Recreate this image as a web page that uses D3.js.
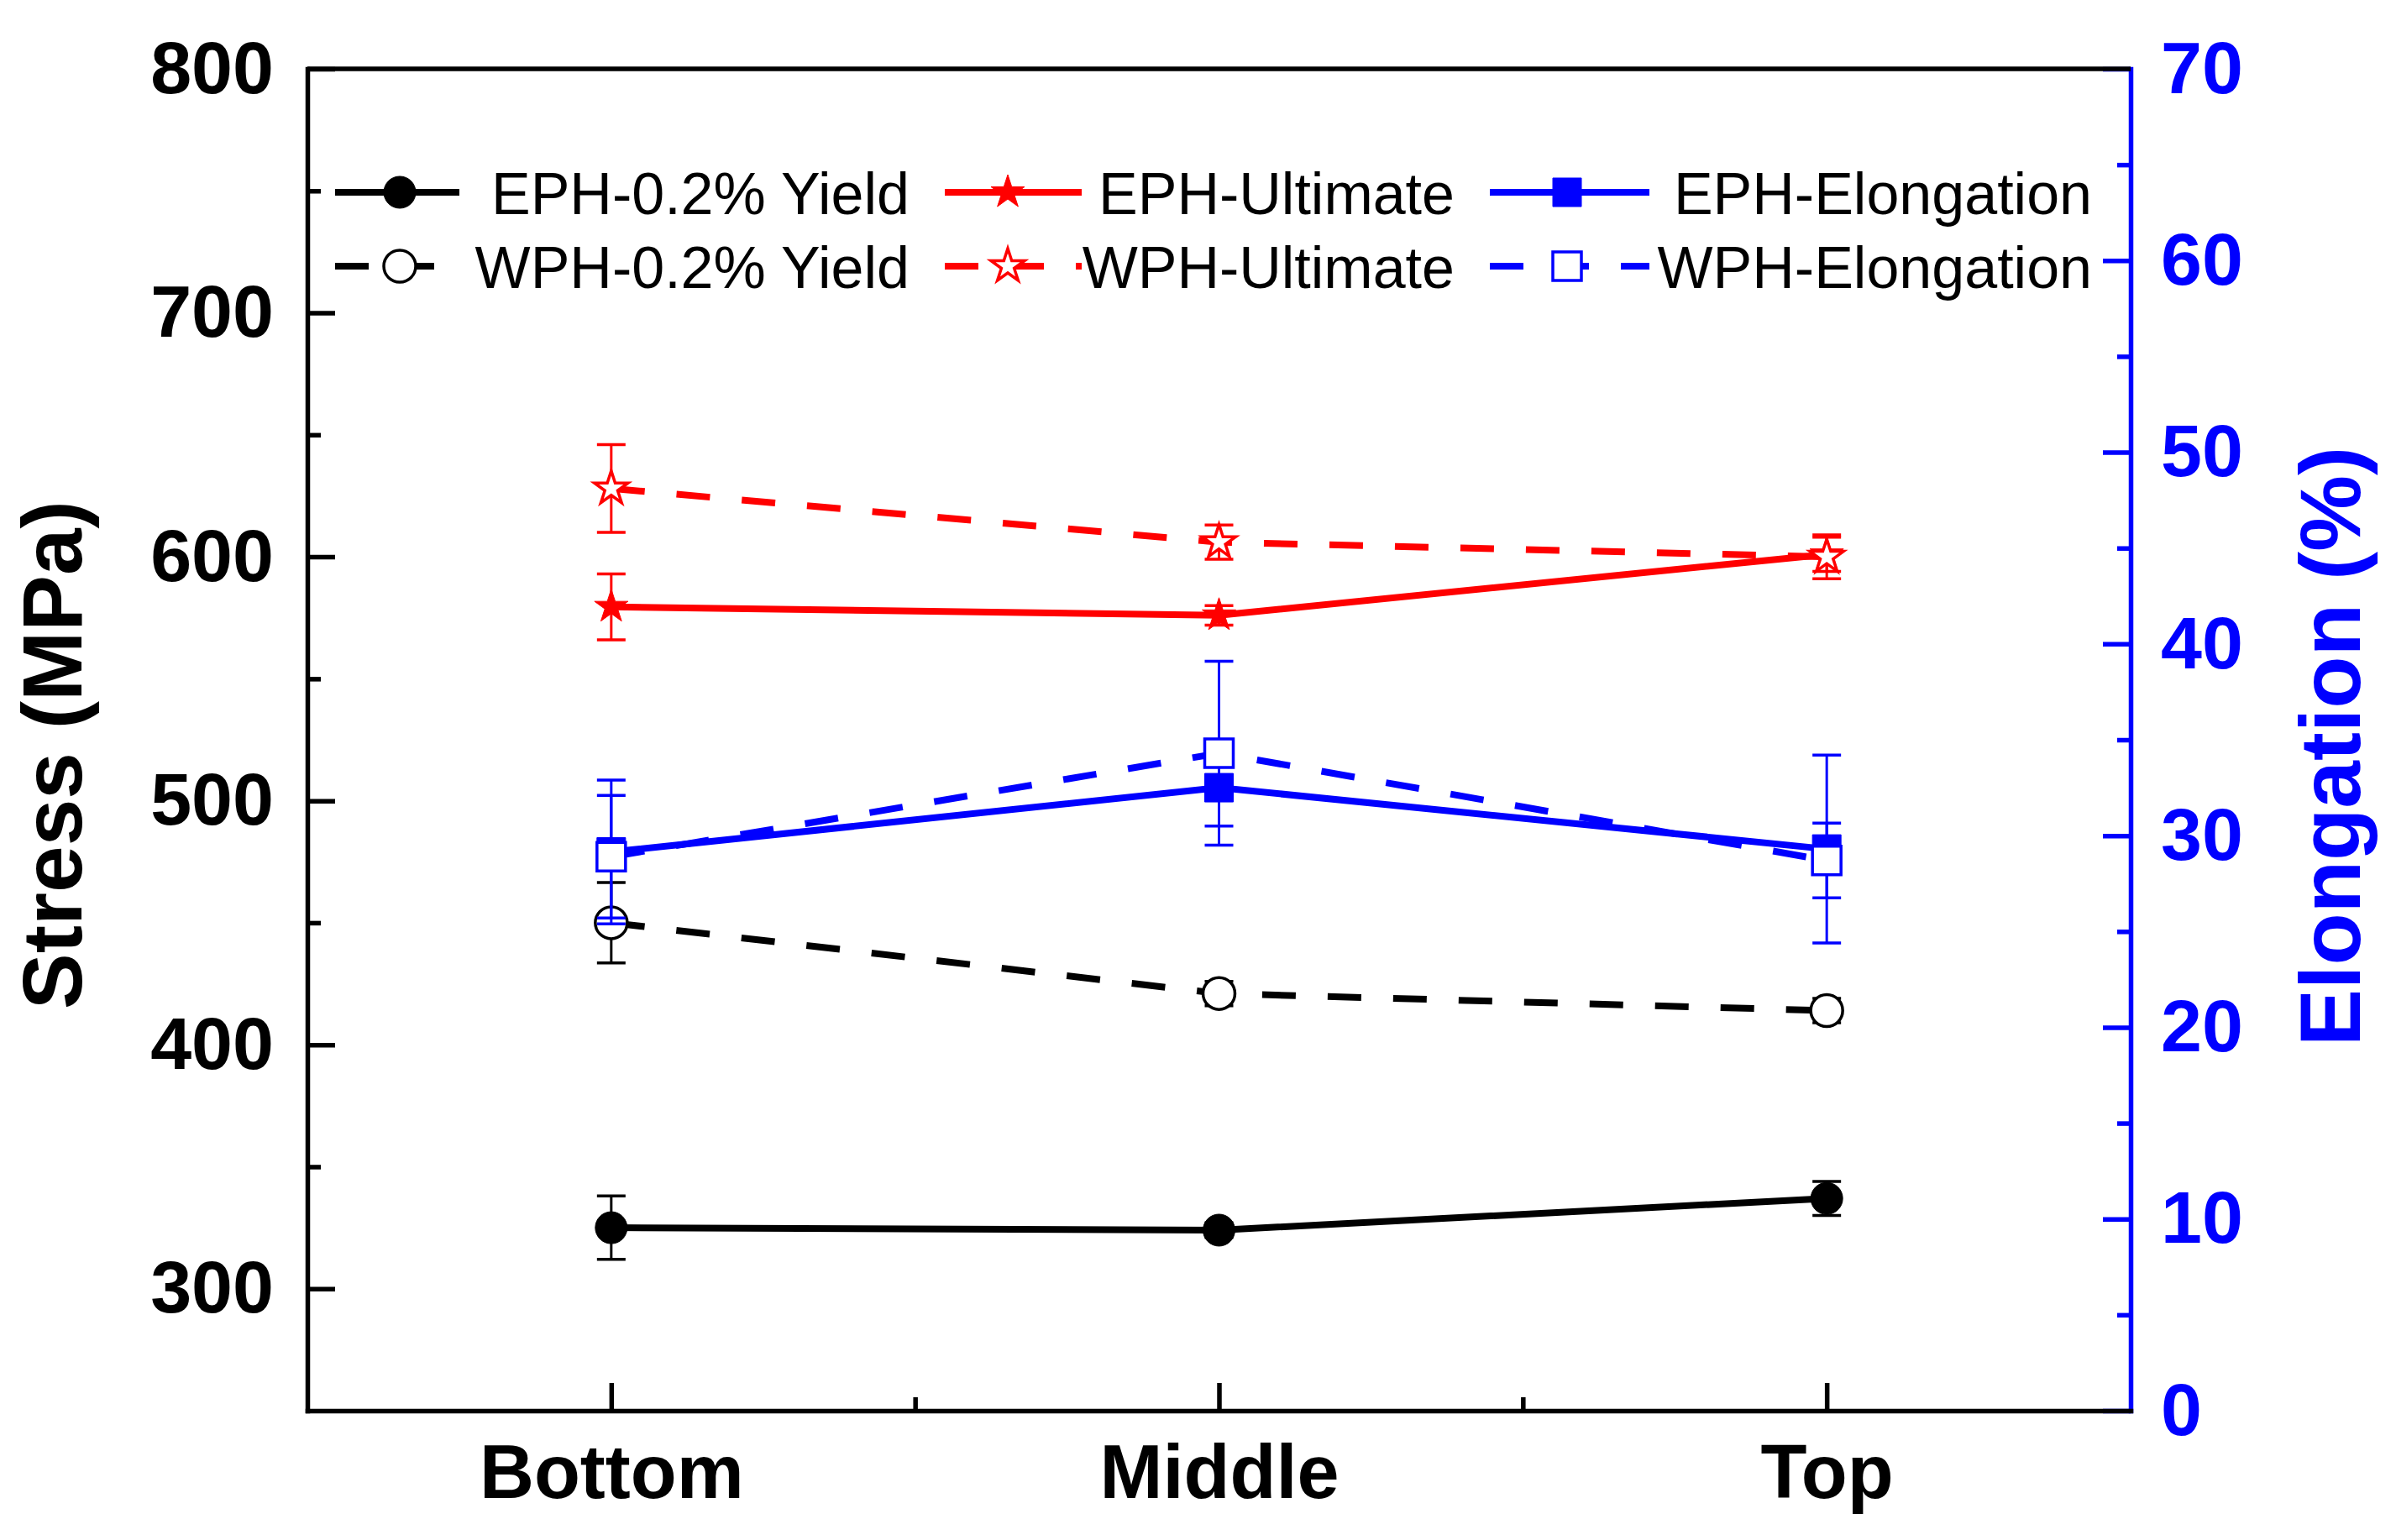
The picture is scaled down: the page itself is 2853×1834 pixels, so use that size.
<!DOCTYPE html>
<html>
<head>
<meta charset="utf-8">
<script src="https://cdn.jsdelivr.net/npm/d3@7"></script>
<style>
  body { margin: 0; background: #fff; }
  svg { display: block; font-family: "Liberation Sans", Arial, sans-serif; }
</style>
</head>
<body>
<div id="chart"></div>
<script>
// sample positions along the build
const positions = ["Bottom", "Middle", "Top"];

// stress (MPa), left axis
const ephYield = [325, 324, 337];
const ephYieldErr = [13, 3, 7];
const wphYield = [450, 421, 414];
const wphYieldErr = [16.5, 5, 5];
const ephUltimate = [579.5, 576, 601];
const ephUltimateErr = [13.5, 4, 7];
const wphUltimate = [628, 606, 600];
const wphUltimateErr = [18, 7, 9];

// elongation (%), right axis
const ephElong = [29.15, 32.5, 29.3];
const ephElongErr = [3.75, 2.0, 4.9];
const wphElong = [28.9, 34.3, 28.7];
const wphElongErr = [3.2, 4.8, 1.95];

const stressTicks = [300, 400, 500, 600, 700, 800];
const stressMinor = [350, 450, 550, 650, 750];
const elongTicks = [0, 10, 20, 30, 40, 50, 60, 70];
const elongMinor = [5, 15, 25, 35, 45, 55, 65];

const width = 2853, height = 1834;
const pLeft = 366, pRight = 2537, pTop = 82, pBottom = 1680;
const BLUE = "#0000ff", RED = "#ff0000";

const svg = d3.select("#chart").append("svg")
  .attr("width", width)
  .attr("height", height);

const x = d3.scaleLinear().domain([0.5, 3.5]).range([pLeft, pRight]);
const yS = d3.scaleLinear().domain([250, 800]).range([pBottom, pTop]);
const yE = d3.scaleLinear().domain([0, 70]).range([pBottom, pTop]);

const series = [
  { name: "EPH-0.2% Yield", vals: ephYield, err: ephYieldErr, y: yS, color: "#000", dash: false, shape: d3.symbolCircle, size: 1134, filled: true },
  { name: "WPH-0.2% Yield", vals: wphYield, err: wphYieldErr, y: yS, color: "#000", dash: true, shape: d3.symbolCircle, size: 1134, filled: false },
  { name: "EPH-Ultimate", vals: ephUltimate, err: ephUltimateErr, y: yS, color: RED, dash: false, shape: d3.symbolStar, size: 495, filled: true },
  { name: "WPH-Ultimate", vals: wphUltimate, err: wphUltimateErr, y: yS, color: RED, dash: true, shape: d3.symbolStar, size: 495, filled: false },
  { name: "EPH-Elongation", vals: ephElong, err: ephElongErr, y: yE, color: BLUE, dash: false, shape: d3.symbolSquare, size: 1156, filled: true },
  { name: "WPH-Elongation", vals: wphElong, err: wphElongErr, y: yE, color: BLUE, dash: true, shape: d3.symbolSquare, size: 1156, filled: false }
];

const plot = svg.append("g");

series.forEach(s => {
  let pts = s.vals.map((v, i) => ({ i: i + 1, v: v, e: s.err[i] }));
  let g = plot.append("g");

  let line = d3.line().x(d => x(d.i)).y(d => s.y(d.v));
  g.append("path")
    .datum(pts)
    .attr("d", line)
    .attr("fill", "none")
    .attr("stroke", s.color)
    .attr("stroke-width", 8)
    .attr("stroke-dasharray", s.dash ? "40,38" : null);

  let eb = g.selectAll(".err").data(pts).enter().append("g");
  eb.append("line")
    .attr("x1", d => x(d.i)).attr("x2", d => x(d.i))
    .attr("y1", d => s.y(d.v + d.e)).attr("y2", d => s.y(d.v - d.e))
    .attr("stroke", s.color).attr("stroke-width", 3);
  [1, -1].forEach(k => {
    eb.append("line")
      .attr("x1", d => x(d.i) - 17).attr("x2", d => x(d.i) + 17)
      .attr("y1", d => s.y(d.v + k * d.e)).attr("y2", d => s.y(d.v + k * d.e))
      .attr("stroke", s.color).attr("stroke-width", 3.5);
  });

  g.selectAll(".mk").data(pts).enter().append("path")
    .attr("transform", d => `translate(${x(d.i)},${s.y(d.v)})`)
    .attr("d", d3.symbol().type(s.shape).size(s.size))
    .attr("fill", s.filled ? s.color : "#fff")
    .attr("stroke", s.color)
    .attr("stroke-width", s.filled ? 1 : 3.5);
});

// axes
const axisFont = sel => sel.selectAll("text")
  .attr("font-size", 88).attr("font-weight", "bold")
  .attr("font-family", "'Liberation Sans', Arial, sans-serif");

let gl = svg.append("g").attr("transform", `translate(${pLeft},0)`)
  .call(d3.axisLeft(yS).tickValues(stressTicks).tickSize(-33).tickSizeOuter(0).tickPadding(40));
gl.call(axisFont);
gl.selectAll("text").attr("fill", "#000");
svg.append("g").attr("transform", `translate(${pLeft},0)`)
  .call(d3.axisLeft(yS).tickValues(stressMinor).tickSize(-16).tickFormat(""))
  .select(".domain").remove();

let gr = svg.append("g").attr("transform", `translate(${pRight},0)`)
  .call(d3.axisRight(yE).tickValues(elongTicks).tickSize(-33).tickSizeOuter(0).tickPadding(36));
gr.call(axisFont);
gr.selectAll("text").attr("fill", BLUE);
gr.selectAll("line, path").attr("stroke", BLUE);
let grm = svg.append("g").attr("transform", `translate(${pRight},0)`)
  .call(d3.axisRight(yE).tickValues(elongMinor).tickSize(-16).tickFormat(""));
grm.select(".domain").remove();
grm.selectAll("line").attr("stroke", BLUE);

let gb = svg.append("g").attr("transform", `translate(0,${pBottom})`)
  .call(d3.axisBottom(x).tickValues([1, 2, 3]).tickSize(-33).tickSizeOuter(0).tickPadding(40)
    .tickFormat(d => positions[d - 1]));
gb.call(axisFont);
gb.selectAll("text").attr("font-size", 90).attr("fill", "#000");
svg.append("g").attr("transform", `translate(0,${pBottom})`)
  .call(d3.axisBottom(x).tickValues([1.5, 2.5]).tickSize(-16).tickFormat(""))
  .select(".domain").remove();

svg.selectAll(".domain, .tick line").attr("stroke-width", 5.5);
svg.selectAll(".domain").attr("stroke-linecap", "square");

svg.append("line")
  .attr("x1", pLeft).attr("x2", pRight).attr("y1", pTop).attr("y2", pTop)
  .attr("stroke", "#000").attr("stroke-width", 5.5);

// axis titles
svg.append("text")
  .attr("transform", `translate(97,${(pTop + pBottom) / 2 + 18}) rotate(-90)`)
  .attr("text-anchor", "middle")
  .attr("font-size", 100).attr("font-weight", "bold")
  .text("Stress (MPa)");

svg.append("text")
  .attr("transform", `translate(2810,${(pTop + pBottom) / 2 + 8}) rotate(-90)`)
  .attr("text-anchor", "middle")
  .attr("font-size", 102).attr("font-weight", "bold")
  .attr("fill", BLUE)
  .text("Elongation (%)");

// legend, 3 columns x 2 rows
const legCols = [
  { x0: 399, x1: 547, mx: 476, tx: 1083 },
  { x0: 1125, x1: 1288, mx: 1200, tx: 1732 },
  { x0: 1774, x1: 1964, mx: 1866, tx: 2491 }
];
const legRows = [229, 317];

series.forEach((s, k) => {
  let c = legCols[Math.floor(k / 2)];
  let ry = legRows[k % 2];
  let lg = svg.append("g");
  lg.append("line")
    .attr("x1", c.x0).attr("x2", c.x1).attr("y1", ry).attr("y2", ry)
    .attr("stroke", s.color).attr("stroke-width", 8)
    .attr("stroke-dasharray", s.dash ? "40,38" : null);
  lg.append("path")
    .attr("transform", `translate(${c.mx},${ry})`)
    .attr("d", d3.symbol().type(s.shape).size(s.size))
    .attr("fill", s.filled ? s.color : "#fff")
    .attr("stroke", s.color)
    .attr("stroke-width", s.filled ? 1 : 3.5);
  lg.append("text")
    .attr("x", c.tx).attr("y", ry + 26)
    .attr("text-anchor", "end")
    .attr("font-size", 70)
    .text(s.name);
});
</script>
</body>
</html>
